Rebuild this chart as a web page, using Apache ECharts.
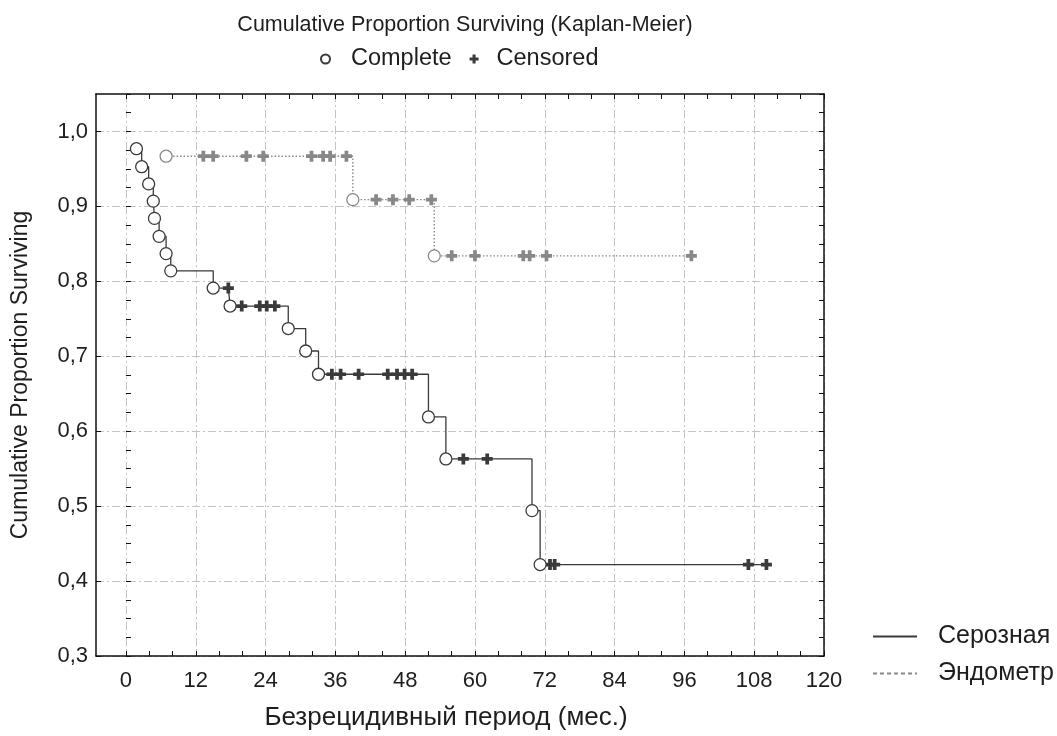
<!DOCTYPE html>
<html><head><meta charset="utf-8">
<script src="https://cdn.jsdelivr.net/npm/echarts@6/dist/echarts.min.js"></script>
<style>html,body{margin:0;padding:0;background:#fff}#c{width:1057px;height:736px}</style>
</head><body><div id="c"></div><script>
// ---- data ----
const serEventT = [1.8, 2.7, 3.9, 4.7, 4.9, 5.7, 6.9, 7.7, 15.0, 17.9, 27.9, 30.9, 33.1, 52.0, 55.0, 69.8, 71.2];
const serEventS = [0.977, 0.953, 0.930, 0.907, 0.884, 0.860, 0.837, 0.814, 0.791, 0.767, 0.737, 0.707, 0.676, 0.619, 0.563, 0.494, 0.422];
const serCensT = [17.6, 19.9, 23.0, 24.2, 25.6, 35.4, 36.9, 40.0, 45.0, 46.6, 47.9, 49.2, 58.0, 62.1, 72.9, 73.7, 107.0, 110.1];
const serCensS = [0.791, 0.767, 0.767, 0.767, 0.767, 0.676, 0.676, 0.676, 0.676, 0.676, 0.676, 0.676, 0.563, 0.563, 0.422, 0.422, 0.422, 0.422];
const endEventT = [6.9, 39.0, 53.0];
const endEventS = [0.967, 0.909, 0.834];
const endCensT = [13.3, 15.0, 20.7, 23.6, 31.9, 33.9, 35.1, 37.9, 43.0, 45.9, 48.7, 52.5, 56.0, 60.0, 68.3, 69.4, 72.3, 97.2];
const endCensS = [0.967, 0.967, 0.967, 0.967, 0.967, 0.967, 0.967, 0.967, 0.909, 0.909, 0.909, 0.909, 0.834, 0.834, 0.834, 0.834, 0.834, 0.834];
const groupNames = ['Серозная', 'Эндометр'];
const markerNames = ['Complete', 'Censored'];
const xMajor = [0, 12, 24, 36, 48, 60, 72, 84, 96, 108, 120];
const xMinor = [0, 4, 8, 12, 16, 20, 24, 28, 32, 36, 40, 44, 48, 52, 56, 60, 64, 68, 72, 76, 80, 84, 88, 92, 96, 100, 104, 108, 112, 116, 120];
const yMajor = [0.3, 0.4, 0.5, 0.6, 0.7, 0.8, 0.9, 1.0];
const yMinor = [0.3, 0.325, 0.35, 0.375, 0.4, 0.425, 0.45, 0.475, 0.5, 0.525, 0.55, 0.575, 0.6, 0.625, 0.65, 0.675, 0.7, 0.725, 0.75, 0.775, 0.8, 0.825, 0.85, 0.875, 0.9, 0.925, 0.95, 0.975, 1.0, 1.025, 1.05];
const titleText = 'Cumulative Proportion Surviving (Kaplan-Meier)';
const xName = 'Безрецидивный период (мес.)';
const yName = 'Cumulative Proportion Surviving';

// ---- build ----
function pairs(t, s) { return t.map((v, i) => [v, s[i]]); }
function lineData(et, es, ct, cs) {
  return pairs(et, es).concat(pairs(ct, cs)).sort((a, b) => a[0] - b[0]);
}
const FONT = "'Liberation Sans', Arial, sans-serif";
const DARK = '#3a3a3a', GREY = '#888888', AX = '#111111', TXT = '#1e1e1e';
const CROSS = 'path://M3.3,0H6.7V3.3H10V6.7H6.7V10H3.3V6.7H0V3.3H3.3Z';
const SOLID_ICON = 'path://M0,0H44V2H0Z';
let dash = 'path://';
for (let x = 0; x < 44; x += 7) dash += 'M' + x + ',0H' + Math.min(x + 4, 44) + 'V2H' + x + 'Z';
const DASH_ICON = dash;
const XMIN = -5.15, XMAX = 120, YMIN = 0.3, YMAX = 1.05;
const axLine = { show: true, onZero: false, lineStyle: { color: AX, width: 1.5 } };
const tick = (vals) => ({ show: true, inside: true, length: 5, customValues: vals, lineStyle: { color: AX, width: 1 } });
const gridLine = { show: true, lineStyle: { color: '#c4c4c4', width: 1, type: [8, 3, 2, 3] } };
const comma = v => v.toFixed(1).replace('.', ',');

const chart = echarts.init(document.getElementById('c'), null, { renderer: 'canvas' });
chart.setOption({
  animation: false,
  backgroundColor: '#fff',
  textStyle: { fontFamily: FONT },
  title: { text: titleText, left: 460, textAlign: 'center', top: 9,
    textStyle: { fontFamily: FONT, fontSize: 21.5, fontWeight: 'normal', color: TXT } },
  legend: [
    { data: [{ name: markerNames[0], icon: 'circle', textStyle: { padding: [0, 0, 0, 16] } },
             { name: markerNames[1], icon: CROSS, textStyle: { padding: [0, 0, 0, 13] } }],
      left: 315, top: 42, itemWidth: 9, itemHeight: 9, itemGap: 18,
      textStyle: { fontFamily: FONT, fontSize: 23.5, color: TXT } },
    { data: [{ name: groupNames[0], icon: SOLID_ICON, itemStyle: { color: DARK } },
             { name: groupNames[1], icon: DASH_ICON, itemStyle: { color: GREY } }],
      orient: 'vertical', left: 868, top: 619, itemWidth: 44, itemHeight: 2, itemGap: 12,
      textStyle: { fontFamily: FONT, fontSize: 25, color: TXT, padding: [0, 0, 0, 16] } }
  ],
  grid: { left: 96, right: 233, top: 94, bottom: 78, containLabel: false },
  xAxis: [
    { type: 'value', min: XMIN, max: XMAX, position: 'bottom', axisLine: axLine, axisTick: tick(xMajor),
      axisLabel: { customValues: xMajor, margin: 14, fontSize: 22, color: TXT, fontFamily: FONT },
      splitLine: gridLine,
      name: xName, nameLocation: 'middle', nameGap: 49,
      nameTextStyle: { fontSize: 26, color: TXT, fontFamily: FONT, padding: [0, 28, 0, 0] } },
    { type: 'value', min: XMIN, max: XMAX, position: 'bottom', axisLine: { show: false }, axisTick: tick(xMinor),
      axisLabel: { show: false }, splitLine: { show: false } },
    { type: 'value', min: XMIN, max: XMAX, position: 'top', axisLine: axLine, axisTick: tick(xMinor),
      axisLabel: { show: false }, splitLine: { show: false } }
  ],
  yAxis: [
    { type: 'value', min: YMIN, max: YMAX, position: 'left', axisLine: axLine, axisTick: tick(yMajor),
      axisLabel: { customValues: yMajor, formatter: comma, margin: 8, fontSize: 22, color: TXT, fontFamily: FONT },
      splitLine: gridLine,
      name: yName, nameLocation: 'middle', nameGap: 64,
      nameTextStyle: { fontSize: 23, color: TXT, fontFamily: FONT } },
    { type: 'value', min: YMIN, max: YMAX, position: 'left', axisLine: { show: false }, axisTick: tick(yMinor),
      axisLabel: { show: false }, splitLine: { show: false } },
    { type: 'value', min: YMIN, max: YMAX, position: 'right', axisLine: axLine, axisTick: tick(yMinor),
      axisLabel: { show: false }, splitLine: { show: false } }
  ],
  series: [
    { name: groupNames[0], type: 'line', step: 'end', symbol: 'none', showSymbol: false, z: 2,
      data: lineData(serEventT, serEventS, serCensT, serCensS),
      itemStyle: { color: DARK }, lineStyle: { color: DARK, width: 1.3 } },
    { name: groupNames[1], type: 'line', step: 'end', symbol: 'none', showSymbol: false, z: 2,
      data: lineData(endEventT, endEventS, endCensT, endCensS),
      itemStyle: { color: GREY }, lineStyle: { color: GREY, width: 1.4, type: [1.5, 2] } },
    { name: markerNames[0], type: 'scatter', symbol: 'circle', symbolSize: 12, z: 4,
      data: pairs(serEventT, serEventS), itemStyle: { color: '#fff', borderColor: DARK, borderWidth: 1.3, opacity: 1 } },
    { name: markerNames[0], type: 'scatter', symbol: 'circle', symbolSize: 12, z: 4,
      data: pairs(endEventT, endEventS), itemStyle: { color: '#fff', borderColor: GREY, borderWidth: 1.3, opacity: 1 } },
    { name: markerNames[1], type: 'scatter', symbol: CROSS, symbolSize: 11, z: 3,
      data: pairs(serCensT, serCensS), itemStyle: { color: DARK, opacity: 1 } },
    { name: markerNames[1], type: 'scatter', symbol: CROSS, symbolSize: 11, z: 3,
      data: pairs(endCensT, endCensS), itemStyle: { color: GREY, opacity: 1 } }
  ]
});
</script></body></html>
